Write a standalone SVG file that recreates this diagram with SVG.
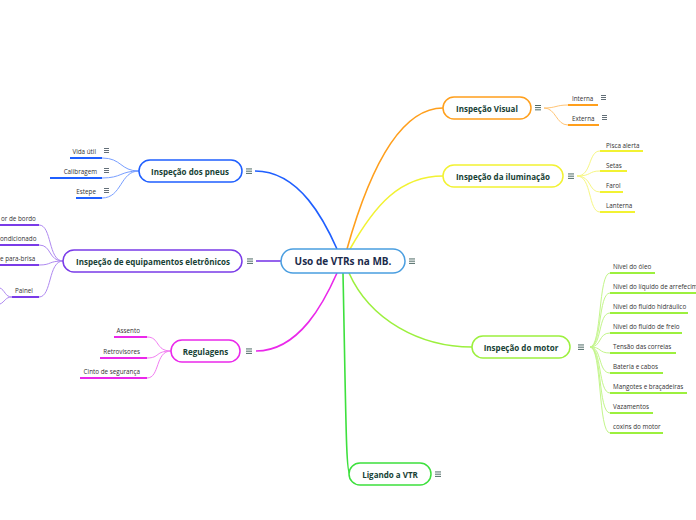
<svg xmlns="http://www.w3.org/2000/svg" width="696" height="520" viewBox="0 0 696 520">
<defs>
<style>
.node{fill:#fff;stroke-width:1.5}
.t{font-family:"Open Sans","Noto Sans",sans-serif;font-weight:bold;font-size:8px;fill:#173f35;text-anchor:middle;dominant-baseline:central}
.tc{font-family:"Open Sans","Noto Sans",sans-serif;font-weight:bold;font-size:10px;fill:#1b2b4b;text-anchor:middle;dominant-baseline:central}
.s{font-family:"Open Sans","Noto Sans",sans-serif;font-size:6.3px;fill:#333;dominant-baseline:central}
.e{text-anchor:end}
.ul{stroke-width:2;fill:none}
.c{fill:none;stroke-width:1.6}
.cs{fill:none;stroke-width:1;opacity:0.6}
</style>
<g id="menu"><rect x="0" y="0" width="6" height="0.9" fill="#3b5a55"/><rect x="0" y="2.2" width="6" height="0.9" fill="#3b5a55"/><rect x="0" y="4.4" width="6" height="0.9" fill="#3b5a55"/></g>
<g id="menus"><rect x="0" y="0" width="5" height="0.8" fill="#3b4a55"/><rect x="0" y="2" width="5" height="0.8" fill="#3b4a55"/><rect x="0" y="4" width="5" height="0.8" fill="#3b4a55"/></g>
</defs>
<g id="connectors">
<path class="c" stroke="#1f5fff" d="M255,171 C300,171 325,222 337,249"/>
<path class="c" stroke="#ff9f1c" d="M347,249 C365,185 395,108 443,108"/>
<path class="c" stroke="#f2f232" d="M350,249 C375,205 400,176 443,176"/>
<path class="c" stroke="#7a3be8" d="M256,261 L281,261"/>
<path class="c" stroke="#ea28ea" d="M256,351 C300,351 325,300 337,273"/>
<path class="c" stroke="#9cf03e" d="M349,273 C370,320 420,347 472,347"/>
<path class="c" stroke="#3de03d" d="M343,273 C346,420 346,474 350,474"/>
<g stroke="#1f5fff" class="cs">
<path d="M139,171 C120,171 122,158 102,158"/><path d="M139,171 C120,171 122,178 102,178"/><path d="M139,171 C120,171 122,198 102,198"/>
</g>
<g stroke="#7a3be8" class="cs">
<path d="M63,261 C48,261 52,225 39,225"/><path d="M63,261 C48,261 52,245 39,245"/><path d="M63,261 C48,261 52,265 39,265"/><path d="M63,261 C48,261 52,297 39,297"/>
<path d="M12,297 C5,297 5,290 0,288"/><path d="M12,297 C5,297 5,302 0,304"/>
</g>
<g stroke="#ea28ea" class="cs">
<path d="M171,351 C155,351 160,337 147,337"/><path d="M171,351 C155,351 160,358 147,358"/><path d="M171,351 C155,351 160,378 147,378"/>
</g>
<g stroke="#ff9f1c" class="cs">
<path d="M544,108 C556,108 556,105 568,105"/><path d="M544,108 C556,108 556,125 568,125"/>
</g>
<g stroke="#f2f232" class="cs">
<path d="M577,176 C592,176 588,151 600,151"/><path d="M577,176 C592,176 588,171 600,171"/><path d="M577,176 C592,176 588,192 600,192"/><path d="M577,176 C592,176 588,212 600,212"/>
</g>
<g stroke="#9cf03e" class="cs">
<path d="M590,347 C602,347 598,273 610,273"/><path d="M590,347 C602,347 598,293 610,293"/><path d="M590,347 C602,347 598,313 610,313"/><path d="M590,347 C602,347 598,333 610,333"/><path d="M590,347 C602,347 598,353 610,353"/><path d="M590,347 C602,347 598,373 610,373"/><path d="M590,347 C602,347 598,393 610,393"/><path d="M590,347 C602,347 598,413 610,413"/><path d="M590,347 C602,347 598,433 610,433"/>
</g>
</g>
<g id="central">
<rect class="node" x="281" y="249" width="124" height="24" rx="12" stroke="#4a9ee0"/>
<text class="tc" x="343" y="261">Uso de VTRs na MB.</text>
<use href="#menu" x="409" y="258.5"/>
</g>
<g id="visual">
<rect class="node" x="443" y="97" width="88" height="22" rx="11" stroke="#ff9f1c"/>
<text class="t" x="487" y="108">Inspeção Visual</text>
<use href="#menu" x="535" y="105"/>
</g>
<g id="visual-interna">
<text class="s" x="572" y="98">Interna</text>
<path class="ul" stroke="#ff9f1c" d="M568,105H598"/>
<use href="#menus" x="601" y="95"/>
</g>
<g id="visual-externa">
<text class="s" x="572" y="118">Externa</text>
<path class="ul" stroke="#ff9f1c" d="M568,125H599"/>
<use href="#menus" x="602" y="115"/>
</g>
<g id="iluminacao">
<rect class="node" x="443" y="165" width="120" height="22" rx="11" stroke="#f2f232"/>
<text class="t" x="503" y="176">Inspeção da iluminação</text>
<use href="#menu" x="568" y="173.5"/>
</g>
<g id="ilum-subs">
<text class="s" x="606" y="145">Pisca alerta</text><path class="ul" stroke="#f2f232" d="M600,151H643"/>
<text class="s" x="606" y="165">Setas</text><path class="ul" stroke="#f2f232" d="M600,171H627"/>
<text class="s" x="606" y="185">Farol</text><path class="ul" stroke="#f2f232" d="M600,192H623"/>
<text class="s" x="606" y="205">Lanterna</text><path class="ul" stroke="#f2f232" d="M600,212H635"/>
</g>
<g id="pneus">
<rect class="node" x="139" y="160" width="103" height="22" rx="11" stroke="#1f5fff"/>
<text class="t" x="190" y="171">Inspeção dos pneus</text>
<use href="#menu" x="246" y="168.5"/>
</g>
<g id="pneus-subs">
<text class="s e" x="96" y="151">Vida útil</text><path class="ul" stroke="#1f5fff" d="M70,158H102"/><use href="#menus" x="104" y="148"/>
<text class="s e" x="97" y="171">Calibragem</text><path class="ul" stroke="#1f5fff" d="M50,178H102"/><use href="#menus" x="104" y="168"/>
<text class="s e" x="96" y="191">Estepe</text><path class="ul" stroke="#1f5fff" d="M76,198H102"/><use href="#menus" x="104" y="188"/>
</g>
<g id="eletronicos">
<rect class="node" x="63" y="250" width="179" height="22" rx="11" stroke="#7a3be8"/>
<text class="t" x="153" y="261">Inspeção de equipamentos eletrônicos</text>
<use href="#menu" x="247" y="258.5"/>
</g>
<g id="eletronicos-subs">
<text class="s" x="1" y="218">or de bordo</text><path class="ul" stroke="#7a3be8" d="M0,225H39"/>
<text class="s" x="0" y="238">ondicionado</text><path class="ul" stroke="#7a3be8" d="M0,245H39"/>
<text class="s" x="0" y="258">e para-brisa</text><path class="ul" stroke="#7a3be8" d="M0,265H39"/>
<text class="s" x="15" y="290">Painel</text><path class="ul" stroke="#7a3be8" d="M12,297H39"/>
</g>
<g id="regulagens">
<rect class="node" x="171" y="340" width="69" height="22" rx="11" stroke="#ea28ea"/>
<text class="t" x="205.5" y="351">Regulagens</text>
<use href="#menu" x="246" y="348.5"/>
</g>
<g id="regulagens-subs">
<text class="s e" x="140" y="330">Assento</text><path class="ul" stroke="#ea28ea" d="M114,337H147"/>
<text class="s e" x="140" y="351">Retrovisores</text><path class="ul" stroke="#ea28ea" d="M100,358H147"/>
<text class="s e" x="140" y="371">Cinto de segurança</text><path class="ul" stroke="#ea28ea" d="M80,378H147"/>
</g>
<g id="motor">
<rect class="node" x="472" y="336" width="98" height="22" rx="11" stroke="#9cf03e"/>
<text class="t" x="521" y="347">Inspeção do motor</text>
<use href="#menu" x="578" y="344.5"/>
</g>
<g id="motor-subs">
<text class="s" x="613" y="266">Nível do óleo</text><path class="ul" stroke="#9cf03e" d="M610,273H655"/>
<text class="s" x="613" y="286">Nível do líquido de arrefecimento</text><path class="ul" stroke="#9cf03e" d="M610,293H696"/>
<text class="s" x="613" y="306">Nível do fluído hidráulico</text><path class="ul" stroke="#9cf03e" d="M610,313H688"/>
<text class="s" x="613" y="326">Nível do fluído de freio</text><path class="ul" stroke="#9cf03e" d="M610,333H682"/>
<text class="s" x="613" y="346">Tensão das correias</text><path class="ul" stroke="#9cf03e" d="M610,353H676"/>
<text class="s" x="613" y="366">Bateria e cabos</text><path class="ul" stroke="#9cf03e" d="M610,373H663"/>
<text class="s" x="613" y="386">Mangotes e braçadeiras</text><path class="ul" stroke="#9cf03e" d="M610,393H687"/>
<text class="s" x="613" y="406">Vazamentos</text><path class="ul" stroke="#9cf03e" d="M610,413H653"/>
<text class="s" x="613" y="426">coxins do motor</text><path class="ul" stroke="#9cf03e" d="M610,433H663"/>
</g>
<g id="ligando">
<rect class="node" x="349" y="463" width="82" height="22" rx="11" stroke="#3de03d"/>
<text class="t" x="390" y="474">Ligando a VTR</text>
<use href="#menu" x="435" y="471.5"/>
</g>
</svg>
